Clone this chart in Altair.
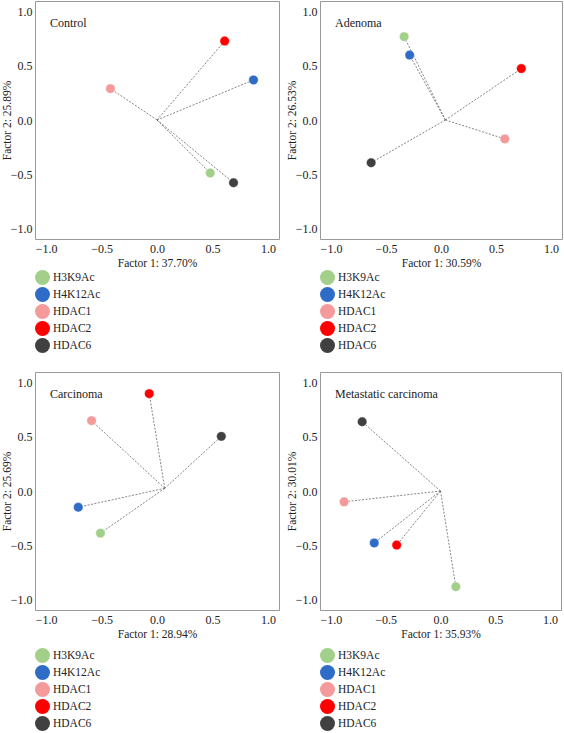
import altair as alt
import pandas as pd

series = ["H3K9Ac", "H4K12Ac", "HDAC1", "HDAC2", "HDAC6"]
colors = ["#a2d08a", "#2f6cc8", "#f49a9a", "#ff0000", "#404040"]

panel_names = ["Control", "Adenoma", "Carcinoma", "Metastatic carcinoma"]
x_titles = ["Factor 1: 37.70%", "Factor 1: 30.59%", "Factor 1: 28.94%", "Factor 1: 35.93%"]
y_titles = ["Factor 2: 25.89%", "Factor 2: 26.53%", "Factor 2: 25.69%", "Factor 2: 30.01%"]

control_x = [0.48, 0.87, -0.42, 0.61, 0.69]
control_y = [-0.49, 0.37, 0.29, 0.73, -0.58]
adenoma_x = [-0.335, -0.285, 0.58, 0.73, -0.635]
adenoma_y = [0.77, 0.60, -0.175, 0.475, -0.395]
carcinoma_x = [-0.51, -0.71, -0.59, -0.07, 0.58]
carcinoma_y = [-0.39, -0.15, 0.65, 0.90, 0.505]
metastatic_x = [0.14, -0.605, -0.88, -0.40, -0.715]
metastatic_y = [-0.885, -0.48, -0.10, -0.50, 0.64]

origin_x = [0.0, 0.04, 0.07, 0.0]
origin_y = [0.0, 0.0, 0.025, 0.0]

tick_values = [-1.0, -0.5, 0.0, 0.5, 1.0]
legend_offsets = [269, 269, 276, 276]

FONT = "Liberation Serif"


def panel(i, xs, ys, w, h):
    df = pd.DataFrame({"marker": series, "x": xs, "y": ys,
                       "x0": origin_x[i], "y0": origin_y[i]})
    sc = alt.Scale(domain=[-1.1, 1.1], nice=False, zero=False)
    xax = alt.Axis(title=x_titles[i], values=tick_values, format=".1f", grid=False,
                   domain=False, ticks=False, labelPadding=4, titlePadding=3,
                   labelFlush=False)
    yax = alt.Axis(title=y_titles[i], values=tick_values, format=".1f", grid=False,
                   domain=False, ticks=False, labelPadding=3, titlePadding=3,
                   minExtent=20, maxExtent=20)
    base = alt.Chart(df)
    lines = base.mark_rule(color="#666666", strokeWidth=0.8, strokeDash=[2, 1.5]).encode(
        x=alt.X("x0:Q", scale=sc, axis=xax),
        y=alt.Y("y0:Q", scale=sc, axis=yax),
        x2="x:Q",
        y2="y:Q",
    )
    pts = base.mark_circle(size=90, opacity=1, stroke="#ffffff", strokeWidth=0.4).encode(
        x=alt.X("x:Q", scale=sc, axis=xax),
        y=alt.Y("y:Q", scale=sc, axis=yax),
        color=alt.Color(
            "marker:N",
            scale=alt.Scale(domain=series, range=colors),
            legend=alt.Legend(orient="none", legendX=0, legendY=legend_offsets[i], title=None,
                              symbolType="circle", symbolSize=225, symbolStrokeWidth=0,
                              labelFont=FONT, labelFontSize=11.5, labelColor="#222222",
                              rowPadding=2, labelOffset=3, padding=0),
        ),
    )
    label = alt.Chart(pd.DataFrame({"t": [panel_names[i]]})).mark_text(
        align="left", baseline="middle", font=FONT, fontSize=12, color="#222222"
    ).encode(x=alt.value(15), y=alt.value(22), text="t:N")
    return alt.layer(lines, pts, label).properties(width=w, height=h)


p1 = panel(0, control_x, control_y, 244, 238)
p2 = panel(1, adenoma_x, adenoma_y, 242, 238)
p3 = panel(2, carcinoma_x, carcinoma_y, 244, 238)
p4 = panel(3, metastatic_x, metastatic_y, 241, 238)

row1 = alt.hconcat(p1, p2, spacing=5).resolve_scale(color="independent").resolve_legend(color="independent")
row2 = alt.hconcat(p3, p4, spacing=5).resolve_scale(color="independent").resolve_legend(color="independent")

chart = alt.vconcat(row1, row2, spacing=17).resolve_scale(color="independent").resolve_legend(
    color="independent"
).properties(padding={"left": 0, "top": 0, "right": 0, "bottom": 0}, background="white").configure_view(
    stroke="#999999", strokeWidth=1
).configure_axis(
    labelFont=FONT, labelFontSize=12, labelColor="#222222",
    titleFont=FONT, titleFontSize=11.5, titleFontWeight="normal", titleColor="#222222",
)

chart.save("out.html", embed_options={"renderer": "svg", "actions": False})
